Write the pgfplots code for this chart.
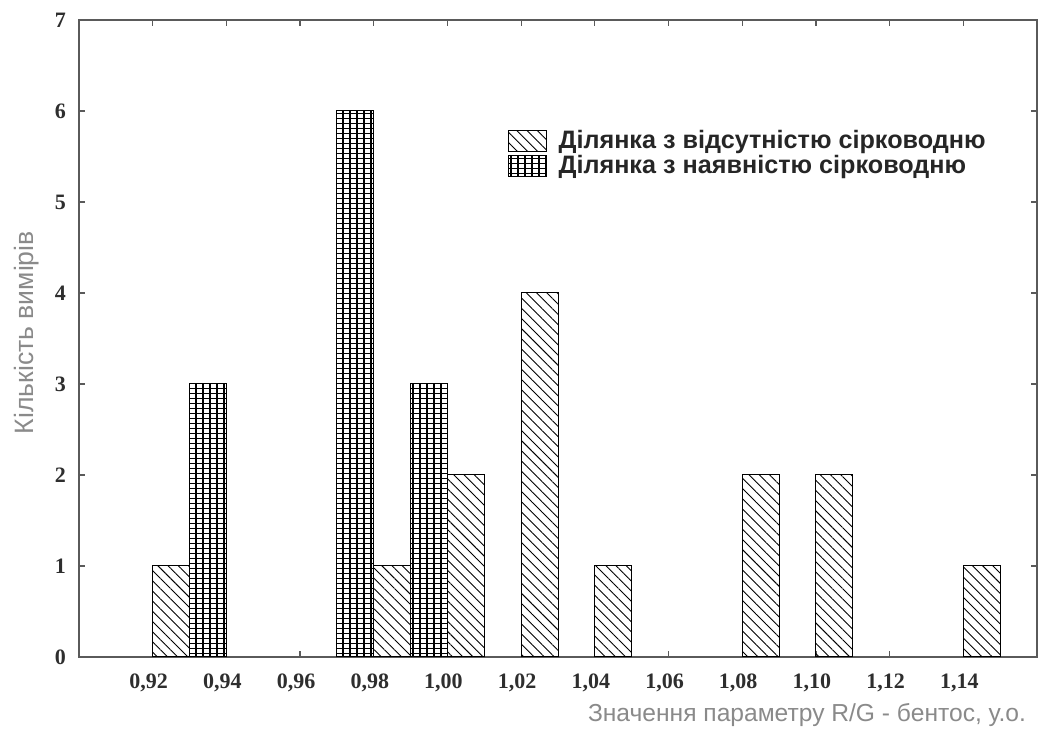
\documentclass[border=0pt]{standalone}
\usepackage{fontspec}
\setmainfont{Liberation Serif}
\newfontfamily\arialf{Liberation Sans}
\usepackage{pgfplots}
\pgfplotsset{compat=1.18}
\usetikzlibrary{patterns.meta}
\definecolor{axgray}{HTML}{5A5A5A}
\definecolor{labgray}{HTML}{8A8A8A}
\definecolor{tickcol}{HTML}{2E2E2E}
\pgfdeclarepatternformonly{mygrid}{\pgfqpoint{-1pt}{-1pt}}{\pgfqpoint{4.5pt}{3.5pt}}{\pgfqpoint{3.5pt}{2.5pt}}{%
  \pgfsetlinewidth{0.6pt}%
  \pgfpathmoveto{\pgfqpoint{0pt}{0pt}}\pgfpathlineto{\pgfqpoint{3.6pt}{0pt}}%
  \pgfpathmoveto{\pgfqpoint{0pt}{0pt}}\pgfpathlineto{\pgfqpoint{0pt}{2.6pt}}%
  \pgfusepath{stroke}}
\pgfplotsset{mylegimg/.style={legend image code/.code={\draw[##1] (0pt,-5.25pt) rectangle (19pt,5.25pt);}}}
\begin{document}
\begin{tikzpicture}
\begin{axis}[
  scale only axis,
  width=479pt, height=318.5pt,
  xmin=0.90, xmax=1.16, ymin=0, ymax=7,
  xtick={0.92,0.94,0.96,0.98,1.00,1.02,1.04,1.06,1.08,1.10,1.12,1.14},
  xticklabels={{0,92},{0,94},{0,96},{0,98},{1,00},{1,02},{1,04},{1,06},{1,08},{1,10},{1,12},{1,14}},
  ytick={0,1,2,3,4,5,6,7},
  tick align=inside,
  major tick length=3pt,
  axis line style={axgray, line width=0.7pt},
  every tick/.style={axgray, line width=0.6pt},
  /pgf/number format/assume math mode=true,
  tick label style={font=\bfseries\fontsize{11}{13}\selectfont, text=tickcol},
  xticklabel style={anchor=base, yshift=-16pt, xshift=-2pt},
  yticklabel style={xshift=-3pt},
  xlabel={Значення параметру R/G - бентос, у.о.},
  ylabel={Кількість вимірів},
  xlabel style={font=\arialf\fontsize{12.3}{14}\selectfont, text=labgray, at={(rel axis cs:0.9958,-0.102)}, anchor=base east},
  ylabel style={font=\arialf\fontsize{13.3}{15}\selectfont, text=labgray, at={(rel axis cs:-0.0543,0.509)}, anchor=center},
  legend style={draw=none, fill=none, at={(rel axis cs:0.447,0.83)}, anchor=north west,
    inner sep=0pt, row sep=-0.5pt,
    font=\arialf\bfseries\fontsize{12.6}{13}\selectfont, text=black!85,
    nodes={inner sep=1pt},
    /tikz/every odd column/.append style={column sep=5pt}},
  legend cell align=left,
]
\addplot[ybar, bar width=0.01, bar shift=0pt, draw=black, line width=0.5pt,
  pattern={Lines[angle=-45,distance=3.6pt,line width=0.45pt]}, mylegimg]
  coordinates {(0.925,1) (0.985,1) (1.005,2) (1.025,4) (1.045,1) (1.085,2) (1.105,2) (1.145,1)};
\addlegendentry{Ділянка з відсутністю сірководню}
\addplot[ybar, bar width=0.01, bar shift=0pt, draw=black, line width=0.5pt,
  pattern=mygrid, mylegimg]
  coordinates {(0.935,3) (0.975,6) (0.995,3)};
\addlegendentry{Ділянка з наявністю сірководню}
\end{axis}
\path (current axis.south west) ++(-39.5pt,-35.5pt);
\path (current axis.north east) ++(1.5pt,10pt);
\end{tikzpicture}
\end{document}
